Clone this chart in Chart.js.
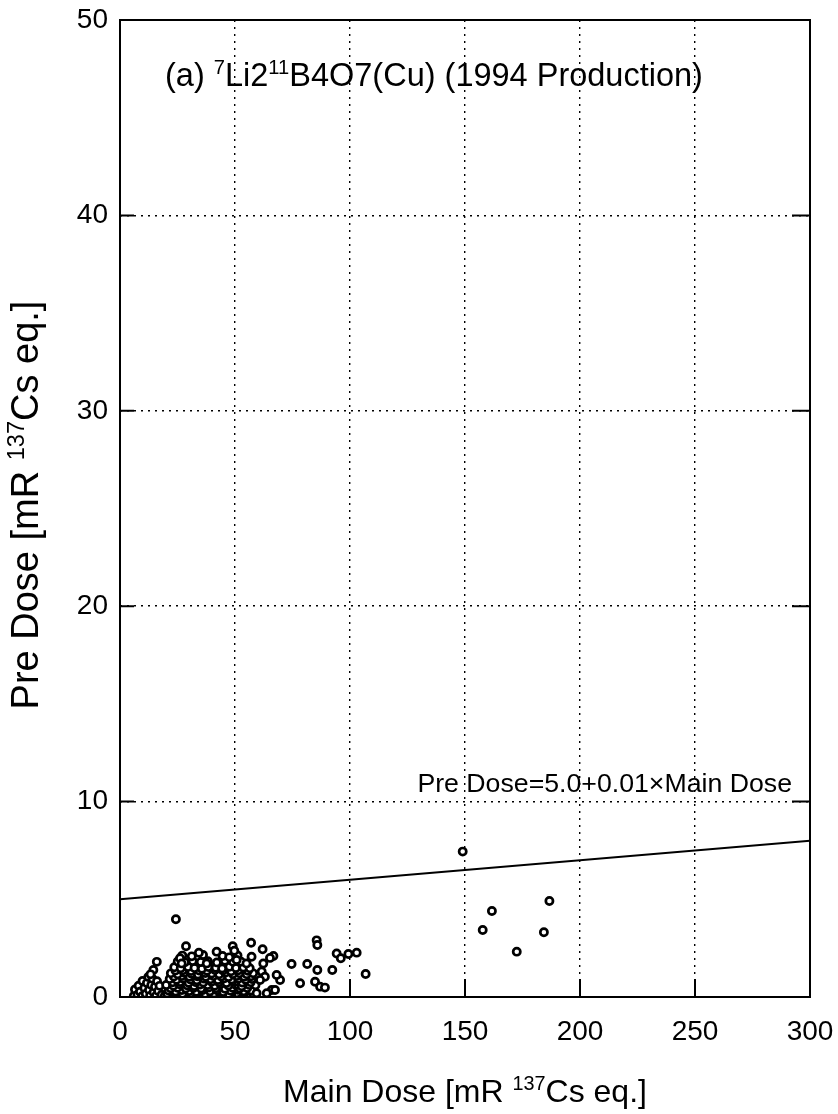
<!DOCTYPE html>
<html>
<head>
<meta charset="utf-8">
<script src="https://cdn.jsdelivr.net/npm/chart.js@4.4.1/dist/chart.umd.min.js"></script>
<style>
html, body { margin: 0; padding: 0; background: #fff; }
</style>
</head>
<body>
<canvas id="myChart" width="838" height="1114"></canvas>
<script>
// tick labels
var xTicks = [0, 50, 100, 150, 200, 250, 300];
var yTicks = [0, 10, 20, 30, 40, 50];

// measured points: Main Dose (x) / Pre Dose (y)
var mainDose = [
    // low group on the left
    6, 6.5, 7.6, 8.1, 8.7, 9.6, 9.8, 10.6, 11.2, 11.7, 12.3, 12.6, 13.1, 13.6, 14.1, 14.6, 15.2, 15.7, 16.1, 16.6, 17.2, 18.1, 14.5, 16, 13.3,
    // main cluster
    19.5, 22.4, 25.6, 28.3, 31.6, 34.4, 37.6, 40.3, 43.7, 46.4, 49.6, 52.3, 55.7,
    20.5, 23.8, 27.2, 30.8, 34, 37, 40.9, 44.2, 47.3, 50.8, 54.2, 58,
    21.1, 24.2, 26.9, 30.1, 33.2, 35.8, 39.1, 42.2, 44.9, 48.1, 51.2, 53.8, 57.1,
    22, 25, 28.6, 31.9, 35.3, 38.6, 41.8, 45.6, 48.9, 52.1, 55.3,
    20.1, 23.2, 25.9, 29.1, 32.2, 34.9, 38.1, 41.2, 43.8, 47.1, 50.2, 52.9, 56.2, 58.9,
    22.9, 26.1, 29.8, 33, 36.2, 39.8, 43, 46.3, 49.8, 53.1, 56.8,
    21.6, 24.6, 27.4, 30.6, 33.4, 36.6, 39.4, 42.6, 45.4, 48.6, 51.4, 54.6, 57.4,
    23.4, 26.9, 30.2, 33.6, 37.3, 40.6, 44, 47.2, 50.8, 54, 57,
    22.1, 25.1, 27.9, 31.1, 33.9, 37.1, 39.9, 43.1, 45.9, 49.1, 51.9, 55.1, 57.9,
    24.1, 27.4, 30.9, 34.4, 37.8, 41.3, 44.8, 48.3, 51.5, 55.6,
    23.6, 26.4, 29.6, 32.4, 35.6, 38.4, 41.6, 44.4, 47.6, 50.4, 53.6, 56.4,
    25.1, 28.2, 31.6, 35.1, 38.2, 42.1, 45.6, 49.1, 52.6,
    27.1, 31.2, 36.1, 44.6, 51.1,
    // upper edge of cluster
    24.3, 28.7, 34.3, 42, 49, 49.7, 57, 26.1, 26.8, 37.7, 47.5, 50.7, 55, 57.2,
    // tail 60-107
    62, 66.7, 65.2, 74.6, 81.4, 85.5, 85.8, 85.8, 92.3, 94.2, 96, 99.3, 102.9, 106.8,
    78.3, 84.8, 87, 89.1, 69.6, 68.1, 66, 67.4, 59.4, 63.8, 62.3, 61.6, 63, 60.9,
    // far points
    149, 157.7, 161.7, 172.5, 184.3, 186.7
];
var preDose = [
    0.05, 0.38, 0.12, 0.58, 0.27, 0.04, 0.82, 0.46, 0.16, 0.72, 1.02, 0.36, 0.06, 0.62, 0.93, 0.24, 0.52, 0.07, 0.81, 0.31, 0.57, 0.11, 1.38, 1.8, 1.16,
    0.06, 0.03, 0.08, 0.04, 0.07, 0.02, 0.09, 0.05, 0.03, 0.08, 0.04, 0.06, 0.03,
    0.18, 0.2, 0.16, 0.19, 0.21, 0.17, 0.18, 0.2, 0.15, 0.19, 0.22, 0.17,
    0.33, 0.28, 0.36, 0.31, 0.27, 0.35, 0.3, 0.34, 0.26, 0.32, 0.37, 0.29, 0.33,
    0.45, 0.47, 0.43, 0.46, 0.44, 0.48, 0.45, 0.42, 0.47, 0.44, 0.46,
    0.62, 0.58, 0.65, 0.6, 0.56, 0.64, 0.61, 0.57, 0.66, 0.59, 0.63, 0.55, 0.62, 0.6,
    0.75, 0.77, 0.73, 0.76, 0.74, 0.78, 0.75, 0.72, 0.77, 0.74, 0.76,
    0.92, 0.88, 0.95, 0.9, 0.86, 0.94, 0.91, 0.87, 0.96, 0.89, 0.93, 0.88, 0.92,
    1.05, 1.07, 1.03, 1.06, 1.04, 1.08, 1.05, 1.02, 1.07, 1.04, 1.06,
    1.21, 1.17, 1.24, 1.19, 1.15, 1.23, 1.2, 1.16, 1.25, 1.18, 1.22, 1.17, 1.21,
    1.35, 1.37, 1.33, 1.36, 1.34, 1.38, 1.35, 1.32, 1.37, 1.34,
    1.52, 1.47, 1.54, 1.49, 1.45, 1.53, 1.5, 1.46, 1.55, 1.48, 1.51, 1.47,
    1.82, 1.78, 1.84, 1.79, 1.83, 1.77, 1.85, 1.8, 1.81,
    2.12, 2.08, 2.15, 2.1, 2.13,
    3.98, 2.6, 2.27, 2.32, 2.6, 2.37, 2.78, 1.98, 1.72, 1.72, 2.03, 1.89, 1.72, 2.06,
    2.44, 2.1, 2.0, 1.69, 1.69, 2.9, 2.66, 1.38, 1.38, 2.23, 1.98, 2.2, 2.27, 1.18,
    0.7, 0.78, 0.53, 0.48, 0.87, 1.13, 0.36, 0.36, 0.19, 0.19, 1.72, 1.3, 1.04, 0.87,
    7.44, 3.43, 4.4, 2.32, 3.31, 4.91
];

// Pre Dose = 5.0 + 0.01 x Main Dose, end points
var fitMain = [0, 300];
var fitPre = [5.0, 8.0];

var FONT = '"Liberation Sans", Arial, Helvetica, sans-serif';

var points = mainDose.map(function (x, i) { return { x: x, y: preDose[i] }; });
var fitLine = fitMain.map(function (x, i) { return { x: x, y: fitPre[i] }; });

// text with superscripts, parts = [[text, isSup], ...]
function drawRich(ctx, parts, x, y, size, align) {
    var w = 0;
    parts.forEach(function (p) {
        ctx.font = (p[1] ? size * 0.62 : size) + 'px ' + FONT;
        w += ctx.measureText(p[0]).width;
    });
    var cx = align === 'center' ? x - w / 2 : (align === 'right' ? x - w : x);
    ctx.textAlign = 'left';
    ctx.textBaseline = 'alphabetic';
    parts.forEach(function (p) {
        ctx.font = (p[1] ? size * 0.62 : size) + 'px ' + FONT;
        ctx.fillText(p[0], cx, p[1] ? y - size * 0.36 : y);
        cx += ctx.measureText(p[0]).width;
    });
}

var framePlugin = {
    id: 'frame',
    afterDraw: function (chart) {
        var ctx = chart.ctx, a = chart.chartArea;
        var xs = chart.scales.x, ys = chart.scales.y;
        ctx.save();
        ctx.strokeStyle = '#000';
        ctx.lineWidth = 2;
        ctx.strokeRect(a.left, a.top, a.right - a.left, a.bottom - a.top);
        // inward major ticks
        ctx.beginPath();
        xTicks.forEach(function (v) {
            var px = xs.getPixelForValue(v);
            ctx.moveTo(px, a.bottom); ctx.lineTo(px, a.bottom - 18);
        });
        yTicks.forEach(function (v) {
            var py = ys.getPixelForValue(v);
            ctx.moveTo(a.left, py); ctx.lineTo(a.left + 14, py);
            ctx.moveTo(a.right, py); ctx.lineTo(a.right - 18, py);
        });
        ctx.stroke();

        ctx.fillStyle = '#000';
        // axis titles
        drawRich(ctx, [['Main Dose [mR ', false], ['137', true], ['Cs eq.]', false]],
            (a.left + a.right) / 2, 1102, 32, 'center');
        ctx.save();
        ctx.translate(38, 505);
        ctx.rotate(-Math.PI / 2);
        drawRich(ctx, [['Pre Dose [mR ', false], ['137', true], ['Cs eq.]', false]],
            0, 0, 38, 'center');
        ctx.restore();

        // annotations
        drawRich(ctx, [['(a) ', false], ['7', true], ['Li2', false], ['11', true], ['B4O7(Cu) (1994 Production)', false]],
            a.left + 45, a.top + 66, 32.5, 'left');
        drawRich(ctx, [['Pre Dose=5.0+0.01\u00d7Main Dose', false]],
            a.right - 18, ys.getPixelForValue(10.95) + 9, 26.7, 'right');
        ctx.restore();
    }
};

var ctx = document.getElementById('myChart').getContext('2d');
var myChart = new Chart(ctx, {
    type: 'scatter',
    data: {
        datasets: [
            {
                label: 'Pre Dose',
                data: points,
                pointRadius: 3.6,
                pointBorderWidth: 2.7,
                borderColor: '#000',
                backgroundColor: '#fff'
            },
            {
                type: 'line',
                label: 'Fit',
                data: fitLine,
                borderColor: '#000',
                borderWidth: 2,
                pointRadius: 0,
                fill: false
            }
        ]
    },
    options: {
        responsive: false,
        animation: false,
        layout: { padding: { top: 20, right: 28, left: 0, bottom: 0 } },
        plugins: {
            legend: { display: false },
            tooltip: { enabled: false }
        },
        scales: {
            x: {
                type: 'linear',
                min: 0,
                max: 300,
                afterBuildTicks: function (s) { s.ticks = xTicks.map(function (v) { return { value: v }; }); },
                afterFit: function (s) { s.height = 117; s.paddingLeft = 0; s.paddingRight = 0; },
                grid: { color: '#000', lineWidth: 1.4, drawTicks: false },
                border: { display: false, dash: [2, 5] },
                ticks: { color: '#000', padding: 18, maxRotation: 0, font: { family: FONT, size: 28 } }
            },
            y: {
                type: 'linear',
                min: 0,
                max: 50,
                afterBuildTicks: function (s) { s.ticks = yTicks.map(function (v) { return { value: v }; }); },
                afterFit: function (s) { s.width = 120; s.paddingTop = 0; s.paddingBottom = 0; },
                grid: { color: '#000', lineWidth: 1.4, drawTicks: false },
                border: { display: false, dash: [2, 5] },
                ticks: { color: '#000', padding: 12, font: { family: FONT, size: 28 } }
            }
        }
    },
    plugins: [framePlugin]
});
</script>
</body>
</html>
